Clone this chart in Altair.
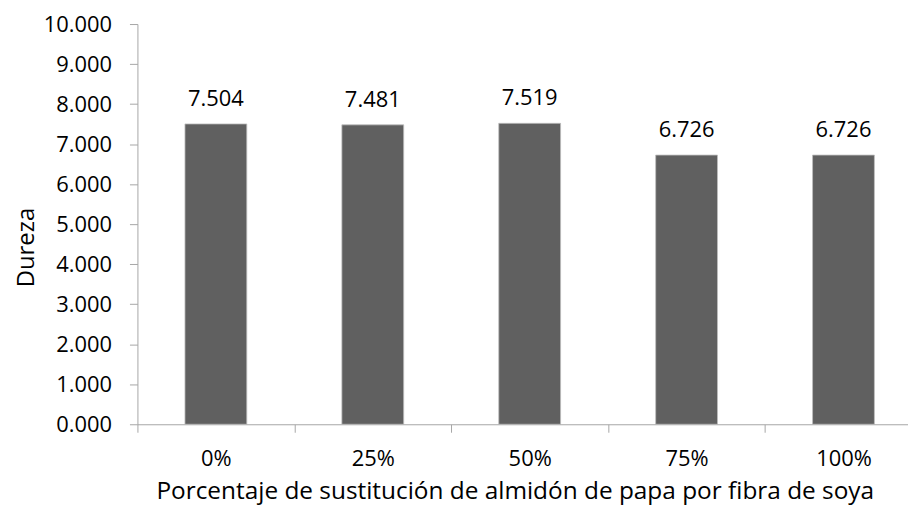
import altair as alt
import pandas as pd

categories = ["0%", "25%", "50%", "75%", "100%"]
values = [7.504, 7.481, 7.519, 6.726, 6.726]
y_ticks = [0, 1, 2, 3, 4, 5, 6, 7, 8, 9, 10]

df = pd.DataFrame({"cat": categories, "val": values})

FONT = "Open Sans"
AXIS_COLOR = "#a6a6a6"

x_enc = alt.X(
    "cat:N",
    sort=categories,
    scale=alt.Scale(paddingInner=0, paddingOuter=0),
    axis=alt.Axis(
        title="Porcentaje de sustitución de almidón de papa por fibra de soya",
        labelAngle=0,
        tickBand="extent",
        tickSize=8,
        tickColor=AXIS_COLOR,
        domainColor=AXIS_COLOR,
        labelFont=FONT,
        labelFontSize=22,
        labelColor="#000000",
        labelBaseline="alphabetic",
        labelPadding=33,
        titleFont=FONT,
        titleFontSize=24.5,
        titleFontWeight="normal",
        titleColor="#000000",
        titleX=379,
        titleY=75,
        titleAlign="center",
        titleBaseline="alphabetic",
    ),
)

y_enc = alt.Y(
    "val:Q",
    scale=alt.Scale(domain=[0, 10], nice=False),
    axis=alt.Axis(
        title="Dureza",
        values=y_ticks,
        format=".3f",
        grid=False,
        tickSize=8,
        tickColor=AXIS_COLOR,
        domainColor=AXIS_COLOR,
        labelFont=FONT,
        labelFontSize=22,
        labelColor="#000000",
        labelPadding=18,
        titleFont=FONT,
        titleFontSize=24,
        titleFontWeight="normal",
        titleColor="#000000",
        titleX=-111,
        titleY=224,
        titleAlign="center",
        titleBaseline="middle",
        titleAngle=-90,
    ),
)

bars = alt.Chart(df).mark_bar(
    color="#606060", stroke="#bdbdbd", strokeWidth=0.8,
    width=alt.RelativeBandSize(0.394),
).encode(x=x_enc, y=y_enc)

labels = alt.Chart(df).mark_text(
    font=FONT, fontSize=22, baseline="alphabetic", dy=-18, color="#000000"
).encode(
    x=alt.X("cat:N", sort=categories),
    y=alt.Y("val:Q"),
    text=alt.Text("val:Q", format=".3f"),
)

chart = (
    alt.layer(bars, labels)
    .properties(
        width=788,
        height=402,
        autosize=alt.AutoSizeParams(type="none"),
        padding={"left": 130, "top": 15, "right": -14, "bottom": 86},
    )
    .configure_view(stroke=None)
)

chart.save("out.html", embed_options={"renderer": "svg", "actions": False})
